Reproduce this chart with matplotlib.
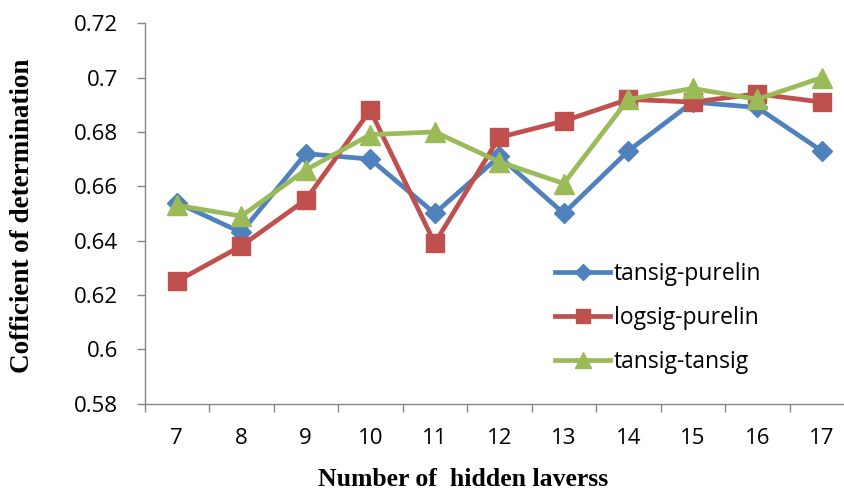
import matplotlib
matplotlib.use("Agg")
import matplotlib.pyplot as plt
from matplotlib.ticker import FixedLocator

categories = ["7", "8", "9", "10", "11", "12", "13", "14", "15", "16", "17"]
tansig_purelin = [0.654, 0.643, 0.672, 0.670, 0.650, 0.671, 0.650, 0.673, 0.691, 0.689, 0.673]
logsig_purelin = [0.625, 0.638, 0.655, 0.688, 0.639, 0.678, 0.684, 0.692, 0.691, 0.694, 0.691]
tansig_tansig = [0.653, 0.649, 0.666, 0.679, 0.680, 0.669, 0.661, 0.692, 0.696, 0.692, 0.700]
y_ticks = [0.58, 0.60, 0.62, 0.64, 0.66, 0.68, 0.70, 0.72]
y_tick_labels = ["0.58", "0.6", "0.62", "0.64", "0.66", "0.68", "0.7", "0.72"]

W, H = 844, 492
fig = plt.figure(figsize=(W / 100, H / 100), dpi=100)
left, right = 144.5 / W, 854 / W
top, bottom = 1 - 23.3 / H, 1 - 403.5 / H
ax = fig.add_axes([left, bottom, right - left, top - bottom])

x = list(range(len(categories)))
tick_font = "Open Sans"
ax.plot(x, tansig_purelin, color="#4F81BD", lw=3.4, marker="D", ms=10.5, label="tansig-purelin", zorder=3)
ax.plot(x, logsig_purelin, color="#C0504D", lw=3.4, marker="s", ms=13, label="logsig-purelin", zorder=4)
ax.plot(x, tansig_tansig, color="#9BBB59", lw=3.4, marker="^", ms=14, label="tansig-tansig", zorder=5)

ax.set_xlim(-0.5, len(categories) - 0.5)
ax.set_ylim(0.58, 0.72)
ax.set_xticks(x)
ax.set_xticklabels(categories, fontfamily=tick_font, fontsize=16)
ax.xaxis.set_minor_locator(FixedLocator([i - 0.5 for i in range(len(categories) + 1)]))
ax.tick_params(axis="x", which="major", length=0, pad=17.5)
ax.tick_params(axis="x", which="minor", length=5.5, color="#868686", width=1)
ax.set_yticks(y_ticks)
ax.set_yticklabels(y_tick_labels, fontfamily=tick_font, fontsize=16)
ax.tick_params(axis="y", length=6, color="#868686", width=1, pad=13)

for s in ["top", "right"]:
    ax.spines[s].set_visible(False)
for s in ["left", "bottom"]:
    ax.spines[s].set_color("#868686")
    ax.spines[s].set_linewidth(1)

fig.text(463 / W, 1 - 491 / H, "Number of  hidden laverss",
         fontfamily="Liberation Serif", fontweight="bold", fontsize=18.5, ha="center", va="bottom")
fig.text(23 / W, 1 - 216 / H, "Cofficient of determination",
         fontfamily="Liberation Serif", fontweight="bold", fontsize=19.5, ha="center", va="center",
         rotation=90)

leg = ax.legend(loc="center left", bbox_to_anchor=(555 / W, 1 - 318 / H), bbox_transform=fig.transFigure,
                frameon=False, prop={"family": tick_font, "size": 16.5}, handlelength=2.4,
                labelspacing=0.86, handletextpad=0.17, borderaxespad=0, borderpad=0, markerscale=0.8)

fig.savefig("out.png", dpi=100)
